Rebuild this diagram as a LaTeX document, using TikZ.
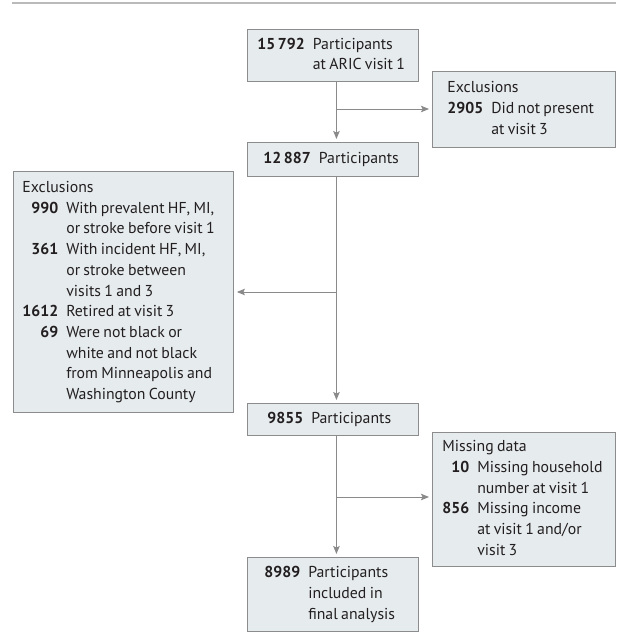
\documentclass[tikz,border=0pt]{standalone}
\usepackage{fontspec}
\setmainfont{PT Sans}
\usetikzlibrary{arrows.meta,calc}
\definecolor{boxfill}{HTML}{E6EBEE}
\definecolor{boxdraw}{HTML}{8C8C8C}
\definecolor{linec}{HTML}{8A8A8A}
\definecolor{txt}{HTML}{231F20}
\newcommand{\bx}[1]{\fontsize{15.8}{20.7}\selectfont\begin{tabular}{@{}r@{\hspace{8pt}}l@{}}#1\end{tabular}}
\newcommand{\nm}[1]{\textbf{#1}}
\begin{document}
\begin{tikzpicture}[x=1pt,y=-1pt,
  box/.style={draw=boxdraw,fill=boxfill,line width=0.9pt,rectangle,anchor=north west,
    align=left,text=txt,inner ysep=0pt},
  arr/.style={draw=linec,line width=1pt,-{Stealth[length=8pt,width=6.5pt,inset=1.5pt]},shorten >=3pt}]
\useasboundingbox (0,0) rectangle (616,634);
\coordinate (r1) at (12,3);
\coordinate (r2) at (616,3);
\draw[line width=2pt,color=gray!110!black!60] (r1) -- (r2);

\node[box,inner xsep=10pt,text width=151pt,minimum height=52pt] (b1) at (247,29)
  {\bx{\nm{15\,792} & Participants\\ & at ARIC visit 1}};
\node[box,inner xsep=15pt,text width=153pt,minimum height=76pt] (e1) at (432,71)
  {\bx{\multicolumn{2}{@{}l@{}}{Exclusions}\\ \nm{2905} & Did not present\\ & at visit 3}};
\node[box,inner xsep=16pt,text width=139pt,minimum height=34pt] (b2) at (247,142)
  {\bx{\nm{12\,887} & Participants}};
\node[box,inner xsep=9pt,text width=202pt,minimum height=241pt] (e2) at (13,171)
  {\bx{\multicolumn{2}{@{}l@{}}{Exclusions}\\
   \nm{990} & With prevalent HF, MI,\\ & or stroke before visit 1\\
   \nm{361} & With incident HF, MI,\\ & or stroke between\\ & visits 1 and 3\\
   \nm{1612} & Retired at visit 3\\
   \nm{69} & Were not black or\\ & white and not black\\ & from Minneapolis and\\ & Washington County}};
\node[box,inner xsep=20pt,text width=131pt,minimum height=32pt] (b3) at (247,403)
  {\bx{\nm{9855} & Participants}};
\node[box,inner xsep=10pt,text width=163pt,minimum height=134pt] (e3) at (432,432)
  {\bx{\multicolumn{2}{@{}l@{}}{Missing data}\\
   \nm{10} & Missing household\\ & number at visit 1\\
   \nm{856} & Missing income\\ & at visit 1 and/or\\ & visit 3}};
\node[box,inner xsep=17pt,text width=137pt,minimum height=74pt] (b4) at (247,557)
  {\bx{\nm{8989} & Participants\\ & included in\\ & final analysis}};

\coordinate (j1) at (336,109);
\coordinate (j2) at (336,292);
\coordinate (j3) at (336,497);
\draw[arr] ([xshift=3.5pt]b1.south) -- ([xshift=3.5pt]b2.north);
\draw[arr] (j1) -- (j1 -| e1.west);
\draw[arr] ([xshift=3.5pt]b2.south) -- ([xshift=3.5pt]b3.north);
\draw[arr] (j2) -- (j2 -| e2.east);
\draw[arr] ([xshift=3.5pt]b3.south) -- ([xshift=3.5pt]b4.north);
\draw[arr] (j3) -- (j3 -| e3.west);
\end{tikzpicture}
\end{document}
